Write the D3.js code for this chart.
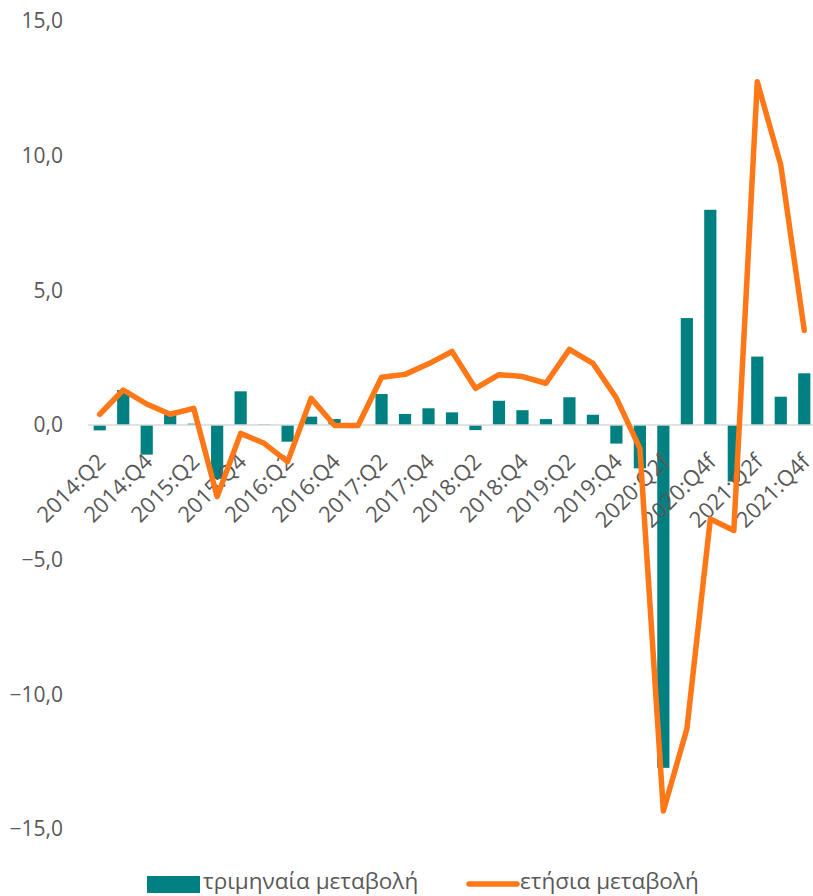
<!DOCTYPE html>
<html><head><meta charset="utf-8">
<script src="https://cdn.jsdelivr.net/npm/d3@7"></script>
<style>body{margin:0;background:#fff}svg{display:block}</style>
</head><body><svg id="c" width="813" height="896"></svg>
<script>
const categories = ["2014:Q2","2014:Q3","2014:Q4","2015:Q1","2015:Q2","2015:Q3","2015:Q4","2016:Q1","2016:Q2","2016:Q3","2016:Q4",
"2017:Q1","2017:Q2","2017:Q3","2017:Q4","2018:Q1","2018:Q2","2018:Q3","2018:Q4","2019:Q1","2019:Q2","2019:Q3","2019:Q4",
"2020:Q1f","2020:Q2f","2020:Q3f","2020:Q4f","2021:Q1f","2021:Q2f","2021:Q3f","2021:Q4f"];
const quarterly = [-0.2,1.3,-1.1,0.4,0.05,-2.0,1.25,0.02,-0.62,0.31,0.22,
0.0,1.15,0.41,0.62,0.47,-0.19,0.9,0.55,0.22,1.03,0.38,-0.69,
-1.61,-12.73,3.97,7.99,-2.1,2.54,1.05,1.92];
const annual = [0.4,1.3,0.78,0.4,0.62,-2.66,-0.31,-0.68,-1.36,0.99,-0.02,
-0.02,1.77,1.88,2.27,2.73,1.36,1.87,1.8,1.55,2.81,2.29,1.0,
-0.87,-14.33,-11.29,-3.49,-3.92,12.74,9.65,3.51];
const yTicks = [-15,-10,-5,0,5,10,15];
const seriesNames = ["τριμηναία μεταβολή","ετήσια μεταβολή"];
const colors = ["#008080","#FF7716"];

const svg = d3.select("#c");
const font = "'Open Sans', sans-serif";
const x = d3.scaleBand().domain(categories).range([88,816]).paddingInner(0.48).paddingOuter(0.24);
const y = d3.scaleLinear().domain([-15,15]).range([829,21]);

// y axis labels
const yAxis = d3.axisLeft(y).tickValues(yTicks).tickSize(0).tickPadding(0)
  .tickFormat(d => d3.format(".1f")(d).replace(".", ","));
const ya = svg.append("g").attr("transform","translate(63,0)").call(yAxis);
ya.select(".domain").remove();
ya.selectAll("text").attr("font-family",font).attr("font-size",21).attr("fill","#595959");

// bars
svg.append("g").selectAll("rect").data(quarterly).join("rect")
  .attr("x",(d,i)=>x(categories[i]))
  .attr("width",x.bandwidth())
  .attr("y",d=>y(Math.max(0,d)))
  .attr("height",d=>Math.abs(y(d)-y(0)))
  .attr("fill",colors[0]);

// zero line
svg.append("line").attr("x1",88).attr("x2",816).attr("y1",y(0)).attr("y2",y(0))
  .attr("stroke","#d9d9d9").attr("stroke-width",1.5);

// x labels
const xAxis = d3.axisBottom(x).tickValues(categories.filter((d,i)=>i%2===0)).tickSize(0).tickPadding(0);
const xa = svg.append("g").attr("transform",`translate(0,${y(0)})`).call(xAxis);
xa.select(".domain").remove();
xa.selectAll("text").attr("font-family",font).attr("font-size",22).attr("fill","#595959")
  .attr("text-anchor","end").attr("dy",null).attr("y",0)
  .attr("transform","translate(3,34) rotate(-45)").attr("dominant-baseline","middle");

// line
const line = d3.line().x((d,i)=>x(categories[i])+x.bandwidth()/2).y(d=>y(d));
svg.append("path").datum(annual).attr("d",line).attr("fill","none")
  .attr("stroke",colors[1]).attr("stroke-width",5.5).attr("stroke-linejoin","round").attr("stroke-linecap","round");

// legend
const lg = svg.append("g");
lg.append("rect").attr("x",147).attr("y",876).attr("width",53).attr("height",17).attr("fill",colors[0]);
lg.append("text").attr("x",203).attr("y",883).attr("dominant-baseline","middle")
  .attr("font-family",font).attr("font-size",22.5).attr("fill","#595959").text(seriesNames[0]);
lg.append("line").attr("x1",469).attr("x2",517).attr("y1",884).attr("y2",884)
  .attr("stroke",colors[1]).attr("stroke-width",5.5).attr("stroke-linecap","round");
lg.append("text").attr("x",520).attr("y",883).attr("dominant-baseline","middle")
  .attr("font-family",font).attr("font-size",22.5).attr("fill","#595959").text(seriesNames[1]);
</script></body></html>
